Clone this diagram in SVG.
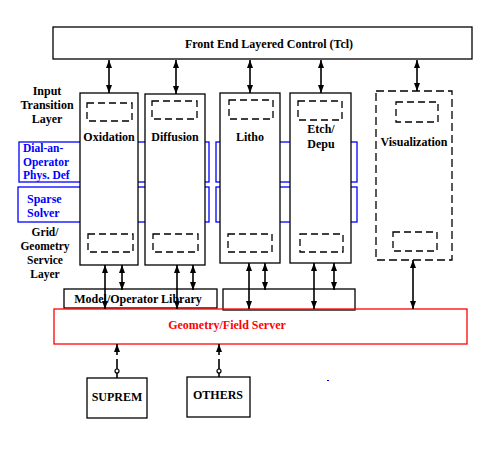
<svg xmlns="http://www.w3.org/2000/svg" width="490" height="452" viewBox="0 0 490 452">
<style>
text{font-family:"Liberation Serif","Times New Roman",serif;font-weight:bold;font-size:12px;fill:#000}
.s{font-size:11.5px}
.box{fill:#fff;stroke:#000;stroke-width:1.3}
.blue{fill:none;stroke:#0000ff;stroke-width:1.3}
.dash{fill:none;stroke:#000;stroke-width:1.3;stroke-dasharray:7 4}
.vdash{fill:#fff;stroke:#000;stroke-width:1.3;stroke-dasharray:8 4}
.bt{fill:#0000ff}
.rt{fill:#ff0000}
.conn line{stroke:#000;stroke-width:1.6}
.m{text-anchor:middle}
</style>
<defs>
<marker id="ah" viewBox="0 0 8 6" refX="8" refY="3" markerWidth="8" markerHeight="6" orient="auto-start-reverse" markerUnits="userSpaceOnUse"><path d="M0,0 L8,3 L0,6 z" fill="#000"/></marker>
</defs>
<rect width="490" height="452" fill="#fff"/>

<g id="frontend"><rect class="box" x="53" y="27" width="419" height="32"/><text class="m" x="269" y="48">Front End Layered Control (Tcl)</text></g>

<g id="labels-left">
<text class="m" x="47" y="95">Input</text>
<text class="m" x="47" y="109">Transition</text>
<text class="m" x="47" y="123">Layer</text>
<text class="m s" x="45" y="236">Grid/</text>
<text class="m s" x="45" y="250">Geometry</text>
<text class="m s" x="45" y="264">Service</text>
<text class="m s" x="45" y="278">Layer</text>
</g>

<g id="dial-an-operator">
<rect class="blue" x="19" y="142" width="190" height="40"/>
<rect class="blue" x="216" y="142" width="141" height="40"/>
<text class="bt s" x="23" y="152">Dial-an-</text>
<text class="bt s" x="23" y="165.5">Operator</text>
<text class="bt s" x="23" y="179">Phys. Def</text>
</g>
<g id="sparse-solver">
<rect class="blue" x="18" y="187" width="191" height="35"/>
<rect class="blue" x="216" y="187" width="141" height="35"/>
<text class="bt" x="27" y="203">Sparse</text>
<text class="bt" x="27" y="217">Solver</text>
</g>

<g id="oxidation"><rect class="box" x="80" y="93" width="58" height="172"/><rect class="dash" x="87" y="103" width="45" height="18"/><rect class="dash" x="88" y="234" width="45" height="18"/><text class="m" x="109" y="141">Oxidation</text></g>
<g id="diffusion"><rect class="box" x="145" y="94" width="60" height="171"/><rect class="dash" x="152" y="101" width="45" height="18"/><rect class="dash" x="153" y="234" width="45" height="18"/><text class="m" x="175" y="141">Diffusion</text></g>
<g id="litho"><rect class="box" x="220" y="93" width="60" height="170"/><rect class="dash" x="229" y="100" width="44" height="19"/><rect class="dash" x="228" y="234" width="44" height="18"/><text class="m" x="250" y="141">Litho</text></g>
<g id="etch"><rect class="box" x="290" y="93" width="61" height="170"/><rect class="dash" x="298" y="101" width="44" height="19"/><rect class="dash" x="300" y="234" width="43" height="18"/><text class="m" x="321" y="133">Etch/</text><text class="m" x="321" y="148">Depu</text></g>
<g id="visualization"><rect class="vdash" x="376" y="91" width="76" height="169"/><rect class="dash" x="396" y="102" width="42" height="20"/><rect class="dash" x="393" y="232" width="44" height="19"/><text class="m" x="414" y="146">Visualization</text></g>

<g id="model-library"><rect class="box" x="64" y="289" width="153" height="19"/><text class="m" x="138" y="303">Model/Operator Library</text></g>
<g id="library2"><rect class="box" x="223" y="289" width="132" height="21"/></g>
<g id="geometry-server"><rect x="54" y="309" width="413" height="35" fill="none" stroke="#ff0000" stroke-width="1.3"/><text class="m rt" x="227" y="329">Geometry/Field Server</text></g>

<g id="suprem"><rect class="box" x="87" y="378" width="60" height="40"/><text class="m" x="117" y="401">SUPREM</text></g>
<g id="others"><rect class="box" x="187" y="377" width="63" height="40"/><text class="m" x="218" y="399">OTHERS</text></g>

<g class="conn" id="connectors">
<line x1="109" y1="60" x2="109" y2="93" marker-start="url(#ah)" marker-end="url(#ah)"/>
<line x1="176" y1="60" x2="176" y2="94" marker-start="url(#ah)" marker-end="url(#ah)"/>
<line x1="250" y1="60" x2="250" y2="93" marker-start="url(#ah)" marker-end="url(#ah)"/>
<line x1="321" y1="60" x2="321" y2="93" marker-start="url(#ah)" marker-end="url(#ah)"/>
<line x1="417" y1="60" x2="417" y2="91" marker-start="url(#ah)" marker-end="url(#ah)"/>
<line x1="105" y1="265" x2="105" y2="309" marker-start="url(#ah)" marker-end="url(#ah)"/>
<line x1="122" y1="265" x2="122" y2="290" marker-start="url(#ah)" marker-end="url(#ah)"/>
<line x1="177" y1="265" x2="177" y2="309" marker-start="url(#ah)" marker-end="url(#ah)"/>
<line x1="193" y1="265" x2="193" y2="290" marker-start="url(#ah)" marker-end="url(#ah)"/>
<line x1="249" y1="263" x2="249" y2="309" marker-start="url(#ah)" marker-end="url(#ah)"/>
<line x1="265" y1="263" x2="265" y2="290" marker-start="url(#ah)" marker-end="url(#ah)"/>
<line x1="314" y1="263" x2="314" y2="309" marker-start="url(#ah)" marker-end="url(#ah)"/>
<line x1="334" y1="263" x2="334" y2="290" marker-start="url(#ah)" marker-end="url(#ah)"/>
<line x1="413" y1="260" x2="413" y2="309" marker-start="url(#ah)" marker-end="url(#ah)"/>
<line x1="117" y1="344" x2="117" y2="355" marker-start="url(#ah)"/>
<line x1="117" y1="359" x2="117" y2="378"/>
<circle cx="117" cy="371" r="2" fill="#fff" stroke="#000" stroke-width="1.2"/>
<line x1="219" y1="344" x2="219" y2="355" marker-start="url(#ah)"/>
<line x1="219" y1="359" x2="219" y2="377"/>
<circle cx="219" cy="371" r="2" fill="#fff" stroke="#000" stroke-width="1.2"/>
</g>
<rect x="327" y="380" width="2" height="1" fill="#0000ff"/>
</svg>
